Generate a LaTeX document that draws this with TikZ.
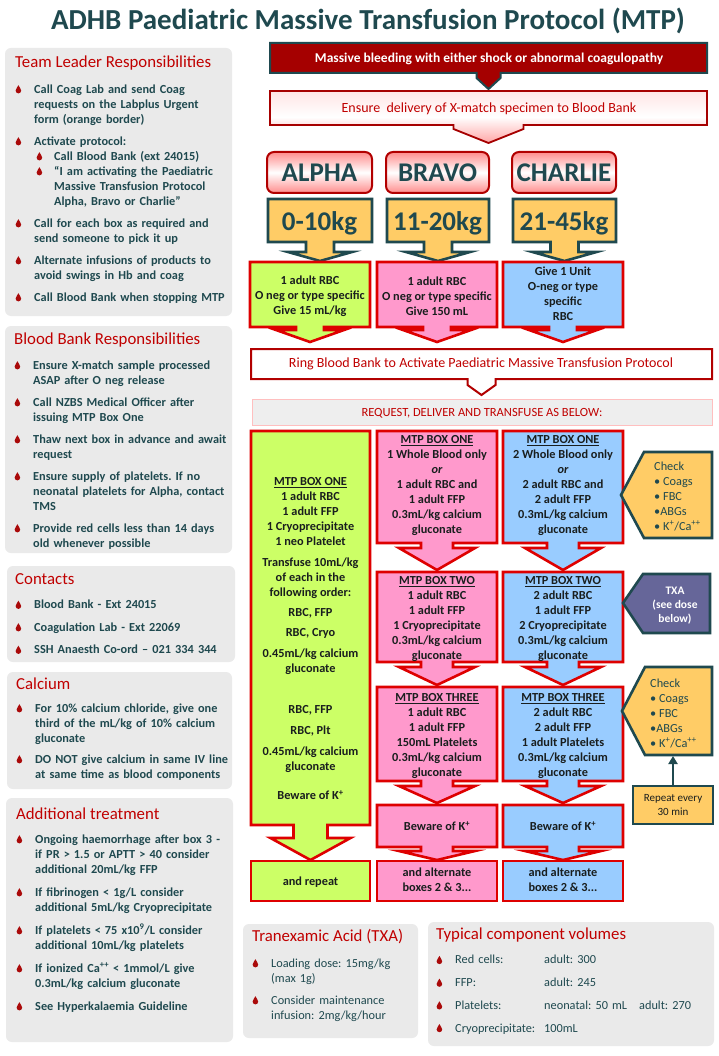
\documentclass[tikz,border=0pt]{standalone}
\usepackage{fontspec}
\setmainfont{Carlito}
\usetikzlibrary{arrows.meta}
\frenchspacing
\definecolor{darkteal}{RGB}{31,73,79}
\definecolor{mtpred}{RGB}{192,0,0}
\definecolor{barred}{RGB}{165,0,0}
\definecolor{boxred}{RGB}{222,0,0}
\definecolor{dropred}{RGB}{170,10,10}
\definecolor{panelgrey}{RGB}{234,234,234}
\definecolor{requestgrey}{RGB}{238,238,238}
\definecolor{alphagreen}{RGB}{204,255,102}
\definecolor{bravopink}{RGB}{255,153,204}
\definecolor{charlieblue}{RGB}{153,204,255}
\definecolor{checkorange}{RGB}{255,204,102}
\definecolor{txapurple}{RGB}{102,102,153}
\definecolor{boxtext}{RGB}{25,30,30}

\newcommand{\bodyfont}{\fontsize{12.3}{15}\selectfont}
\newcommand{\drop}{\tikz[x=1pt,y=1pt,baseline=0pt]\fill[dropred] (0,8) .. controls (0.8,5.6) and (2.8,4.6) .. (2.8,2.6) arc[start angle=0,end angle=-180,radius=2.8] .. controls (-2.8,4.6) and (-0.8,5.6) .. (0,8) -- cycle;}
\newcommand{\itmskip}{7pt}
\newcommand{\itm}{\par\parskip=\itmskip\leftskip=0pt\noindent\llap{\drop\hspace{13pt}}}
\newcommand{\subitm}{\par\parskip=0pt\leftskip=20pt\noindent\llap{\drop\hspace{12pt}}}
% box with a downward arrow: x1,y1,x2,y2, neck, head, neck bottom, tip
\newcommand{\dncallout}[9][]{%
  \pgfmathsetmacro{\ctrx}{(#2+#4)/2}%
  \draw[#1] (#2,#3) -- (#4,#3) -- (#4,#5) -- (\ctrx+#6,#5) -- (\ctrx+#6,#8) -- (\ctrx+#7,#8) -- (\ctrx,#9) -- (\ctrx-#7,#8) -- (\ctrx-#6,#8) -- (\ctrx-#6,#5) -- (#2,#5) -- cycle;}

\tikzset{
  panel/.style={fill=panelgrey, rounded corners=6pt},
  paneltitle/.style={anchor=west, inner sep=0pt, text=mtpred, font=\fontsize{16.8}{20}\selectfont},
  paneltext/.style={anchor=north west, inner sep=0pt, text=darkteal, text width=#1, align=left, font=\bodyfont\bfseries},
  prodbox/.style={fill=#1, draw=boxred, line width=2.6pt},
  prodtext/.style={inner sep=0pt, align=center, text=boxtext, font=\bodyfont\bfseries},
  namebox/.style={draw=boxred!80!black, line width=2pt, rounded corners=7pt, top color=red!45, bottom color=red!45, middle color=white},
  kgbox/.style={fill=checkorange, draw=darkteal, line width=2.6pt},
  bigtext/.style={inner sep=0pt, text=darkteal, font=\fontsize{27}{30}\selectfont\bfseries},
  banner/.style={inner sep=0pt, text=mtpred, font=\fontsize{14}{16}\selectfont},
  checkbox/.style={fill=checkorange, draw=darkteal, line width=2.6pt},
  checktext/.style={anchor=west, inner sep=0pt, align=left, text=darkteal, font=\bodyfont}
}

\begin{document}
\begin{tikzpicture}[x=1pt,y=-1pt]
\path[use as bounding box, fill=white] (0,0) rectangle (719,1056);

\node[anchor=base, inner sep=0pt, text=darkteal, font=\fontsize{29}{34}\selectfont\bfseries] (title) at (368,30) {ADHB Paediatric Massive Transfusion Protocol (MTP)};

% left column
\fill[panel] (5,48) rectangle (232,316);
\node[paneltitle] (leadhead) at (15,63) {Team Leader Responsibilities};
\node[paneltext=215pt] (leadtext) at (34,71) {%
\itm Call Coag Lab and send Coag\newline requests on the Labplus Urgent\newline form (orange border)
\itm Activate protocol:
\subitm Call Blood Bank (ext 24015)
\subitm “I am activating the Paediatric\newline Massive Transfusion Protocol\newline Alpha, Bravo or Charlie”
\itm Call for each box as required and\newline send someone to pick it up
\itm Alternate infusions of products to\newline avoid swings in Hb and coag
\itm Call Blood Bank when stopping MTP};

\fill[panel] (5,326) rectangle (232,553);
\node[paneltitle] (bankhead) at (14,340) {Blood Bank Responsibilities};
\node[paneltext=215pt] (banktext) at (33,347) {%
\itm Ensure X-match sample processed\newline ASAP after O neg release
\itm Call NZBS Medical Officer after\newline issuing MTP Box One
\itm Thaw next box in advance and await\newline request
\itm Ensure supply of platelets. If no\newline neonatal platelets for Alpha, contact\newline TMS
\itm Provide red cells less than 14 days\newline old whenever possible};

\fill[panel] (7,566) rectangle (235,662);
\node[paneltitle] (contacthead) at (15,579) {Contacts};
\node[paneltext=215pt] (contacttext) at (34,586) {\renewcommand{\itmskip}{7.5pt}%
\itm Blood Bank - Ext 24015
\itm Coagulation Lab - Ext 22069
\itm SSH Anaesth Co-ord – 021 334 344};

\fill[panel] (7,672) rectangle (232,789);
\node[paneltitle] (calchead) at (16,684) {Calcium};
\node[paneltext=215pt] (calctext) at (35,691) {\renewcommand{\itmskip}{6pt}%
\itm For 10\% calcium chloride, give one\newline third of the mL/kg of 10\% calcium\newline gluconate
\itm DO NOT give calcium in same IV line\newline at same time as blood components};

\fill[panel] (6,798) rectangle (233,1042);
\node[paneltitle] (addhead) at (16,814) {Additional treatment};
\node[paneltext=215pt] (addtext) at (35,820) {\renewcommand{\itmskip}{8pt}%
\itm Ongoing haemorrhage after box 3 -\newline if PR > 1.5 or APTT > 40 consider\newline additional 20mL/kg FFP
\itm If fibrinogen < 1g/L consider\newline additional 5mL/kg Cryoprecipitate
\itm If platelets < 75 x10\textsuperscript{9}/L consider\newline additional 10mL/kg platelets
\itm If ionized Ca\textsuperscript{++} < 1mmol/L give\newline 0.3mL/kg calcium gluconate
\itm See Hyperkalaemia Guideline};

% top of the flow
\dncallout[fill=barred, draw=darkteal, line width=2pt]{270}{43}{707}{73}{12}{12}{78}{89}
\node[banner, text=white, font=\fontsize{13.5}{16}\selectfont\bfseries] (bleed) at (489,59) {Massive bleeding with either shock or abnormal coagulopathy};
\dncallout[draw=red!65!black, line width=1.8pt, top color=red!10, bottom color=red!35, middle color=white]{270}{91}{707}{125}{35}{35}{129}{143}
\node[banner] (xmatch) at (489,109) {Ensure\ \ delivery of X-match specimen to Blood Bank};

\foreach \nm/\xa/\xb/\kg in {ALPHA/267/372/0-10kg, BRAVO/386/489/11-20kg, CHARLIE/512/616/21-45kg}{
  \draw[namebox] (\xa,152) rectangle (\xb,193);
  \node[bigtext] (\nm) at ({(\xa+\xb)/2},173) {\nm};
  \dncallout[kgbox]{\xa+1}{199}{\xb}{242}{14}{32}{252}{261}
  \node[bigtext] (\nm kg) at ({(\xa+\xb)/2},223) {\kg};
}

\foreach \col/\xa/\xb in {alphagreen/250/370, bravopink/377/497, charlieblue/503/623}
  \dncallout[prodbox=\col]{\xa}{262}{\xb}{327}{14}{34}{330}{342};
\node[prodtext] (alphastart) at (310,296) {1 adult RBC\\O neg or type specific\\Give 15 mL/kg};
\node[prodtext] (bravostart) at (437,296) {1 adult RBC\\O neg or type specific\\Give 150 mL};
\node[prodtext] (charliestart) at (563,294) {Give 1 Unit\\O-neg or type\\specific\\RBC};

\dncallout[fill=white, draw=red!70!black, line width=2pt]{251}{349}{712}{379}{14}{14}{385}{395}
\node[banner] (ring) at (481,364) {Ring Blood Bank to Activate Paediatric Massive Transfusion Protocol};
\draw[fill=requestgrey, draw=red!25, line width=1pt] (252,399) rectangle (712,425);
\node[banner, font=\fontsize{12.5}{15}\selectfont] (request) at (482,413) {REQUEST, DELIVER AND TRANSFUSE AS BELOW:};

% MTP boxes
\dncallout[prodbox=alphagreen]{251}{431}{370}{825}{17}{40}{838}{860}
\draw[prodbox=alphagreen] (251,861) rectangle (370,901);
\foreach \col/\xa/\xb in {bravopink/377/497, charlieblue/503/623}{
  \dncallout[prodbox=\col]{\xa}{431}{\xb}{543}{16}{38}{548}{570}
  \dncallout[prodbox=\col]{\xa}{572}{\xb}{662}{16}{38}{667}{685}
  \dncallout[prodbox=\col]{\xa}{687}{\xb}{781}{16}{38}{786}{803}
  \dncallout[prodbox=\col]{\xa}{805}{\xb}{847}{16}{38}{851}{860}
  \draw[prodbox=\col] (\xa,861) rectangle (\xb,901);
}

\node[prodtext] (alphaone) at (310.5,639) {\underline{MTP BOX ONE}\\1 adult RBC\\1 adult FFP\\1 Cryoprecipitate\\1 neo Platelet\\[6pt]Transfuse 10mL/kg\\of each in the\\following order:\\[5pt]RBC, FFP\\[5pt]RBC, Cryo\\[6pt]0.45mL/kg calcium\\gluconate\\[26pt]RBC, FFP\\[6pt]RBC, Plt\\[6pt]0.45mL/kg calcium\\gluconate\\[14pt]Beware of K\textsuperscript{+}};
\node[prodtext] (alpharepeat) at (310.5,882) {and repeat};

\node[prodtext] (bravoone) at (437,486) {\underline{MTP BOX ONE}\\1 Whole Blood only\\\textit{or}\\1 adult RBC and\\1 adult FFP\\0.3mL/kg calcium\\gluconate};
\node[prodtext] (bravotwo) at (437,619) {\underline{MTP BOX TWO}\\1 adult RBC\\1 adult FFP\\1 Cryoprecipitate\\0.3mL/kg calcium\\gluconate};
\node[prodtext] (bravothree) at (437,736) {\underline{MTP BOX THREE}\\1 adult RBC\\1 adult FFP\\150mL Platelets\\0.3mL/kg calcium\\gluconate};
\node[prodtext] (bravobeware) at (437,826) {Beware of K\textsuperscript{+}};
\node[prodtext] (bravoalt) at (437,880) {and alternate\\boxes 2 \& 3...};

\node[prodtext] (charlieone) at (563,486) {\underline{MTP BOX ONE}\\2 Whole Blood only\\\textit{or}\\2 adult RBC and\\2 adult FFP\\0.3mL/kg calcium\\gluconate};
\node[prodtext] (charlietwo) at (563,619) {\underline{MTP BOX TWO}\\2 adult RBC\\1 adult FFP\\2 Cryoprecipitate\\0.3mL/kg calcium\\gluconate};
\node[prodtext] (charliethree) at (563,736) {\underline{MTP BOX THREE}\\2 adult RBC\\2 adult FFP\\1 adult Platelets\\0.3mL/kg calcium\\gluconate};
\node[prodtext] (charliebeware) at (563,826) {Beware of K\textsuperscript{+}};
\node[prodtext] (charliealt) at (563,880) {and alternate\\boxes 2 \& 3...};

% side checks
\draw[checkbox] (712,452) -- (644,452) -- (621,495) -- (644,538) -- (712,538) -- cycle;
\node[checktext] (checkone) at (654,496) {Check\\• Coags\\• FBC\\•ABGs\\• K\textsuperscript{+}/Ca\textsuperscript{++}};
\draw[fill=txapurple, draw=darkteal, line width=2.6pt] (710,574) -- (643,574) -- (623,603) -- (643,633) -- (710,633) -- cycle;
\node[inner sep=0pt, align=center, text=white, font=\fontsize{11.5}{14}\selectfont\bfseries] (txa) at (675,606) {TXA\\(see dose\\below)};
\draw[checkbox] (712,667) -- (645,667) -- (622,711) -- (645,755) -- (712,755) -- cycle;
\node[checktext] (checktwo) at (650,713) {Check\\• Coags\\• FBC\\•ABGs\\• K\textsuperscript{+}/Ca\textsuperscript{++}};
\coordinate (checkfoot) at (673,756);
\node[draw=darkteal, fill=checkorange, line width=2.6pt, minimum width=80pt, minimum height=38pt, inner sep=0pt, align=center, text=boxtext, font=\fontsize{11}{14}\selectfont] (repeat) at (673,805) {Repeat every\\30 min};
\draw[darkteal, line width=2.6pt, -{Triangle[length=8pt,width=9pt]}] (repeat) -- (checkfoot);

% bottom panels
\fill[panel] (243,924) rectangle (418,1038);
\node[paneltitle] (txahead) at (252,937) {Tranexamic Acid (TXA)};
\node[paneltext=150pt, font=\bodyfont] (txatext) at (271,945) {%
\itm Loading dose: 15mg/kg\newline (max 1g)
\itm Consider maintenance\newline infusion: 2mg/kg/hour};

\fill[panel] (428,922) rectangle (714,1046);
\node[paneltitle] (volhead) at (436,935) {Typical component volumes};
\node[paneltext=255pt, font=\bodyfont] (voltext) at (455,941) {\renewcommand{\itmskip}{7.7pt}%
\itm\makebox[89pt][l]{Red cells:}adult: 300
\itm\makebox[89pt][l]{FFP:}adult: 245
\itm\makebox[89pt][l]{Platelets:}\makebox[95pt][l]{neonatal: 50 mL}adult: 270
\itm\makebox[89pt][l]{Cryoprecipitate:}100mL};
\end{tikzpicture}
\end{document}
